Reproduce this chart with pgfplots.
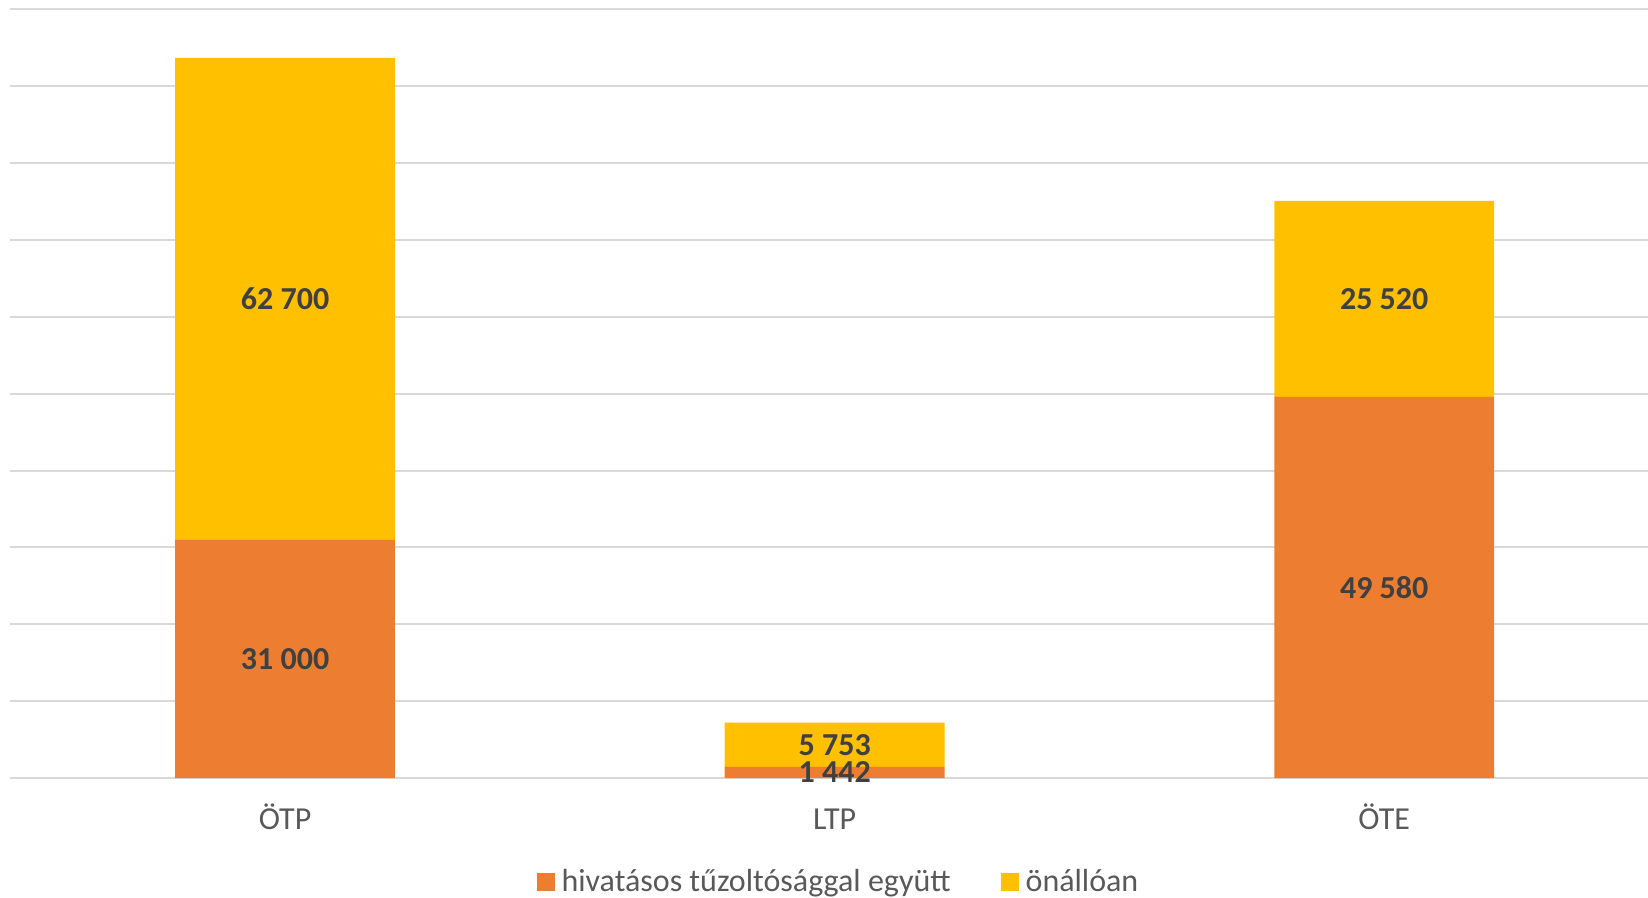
\documentclass[border=0pt]{standalone}
\usepackage{fontspec}
\setmainfont{Carlito}
\usepackage{pgfplots}
\pgfplotsset{compat=1.18}
\usepackage{pgfplotstable}

\definecolor{narancs}{HTML}{ED7D31}
\definecolor{sarga}{HTML}{FFC000}
\definecolor{racs}{HTML}{D9D9D9}
\definecolor{felirat}{HTML}{595959}
\definecolor{ertek}{HTML}{404040}

% segment values
\pgfplotstableread{
x  egyutt  onallo
0  31000   62700
1  1442    5753
2  49580   25520
}\adatok

% label positions (middle of each segment)
\pgfplotstableread{
x  y       v
0  15500   31000
0  62350   62700
1  721     1442
1  4318.5  5753
2  24790   49580
2  62340   25520
}\cimkek

\pgfplotsset{
  kozos/.style={
    scale only axis,
    width=818.85bp, height=384.25bp,
    at={(5.15bp,60bp)}, anchor=south west,
    xmin=-0.5, xmax=2.48,
    ymin=0, ymax=100000,
  },
}

\begin{document}
\begin{tikzpicture}
  \begin{axis}[
      kozos,
      ybar stacked,
      bar width=0.4,
      axis line style={draw=none},
      ytick={0,10000,...,100000},
      yticklabel=\empty,
      ymajorgrids,
      grid style={racs, line width=1bp},
      major tick length=0,
      xtick={0,1,2},
      xticklabels={ÖTP,LTP,ÖTE},
      xticklabel style={anchor=base, yshift=-25.8bp,
        font=\fontsize{16bp}{19bp}\selectfont, text=felirat},
      legend columns=2,
      legend cell align=left,
      legend style={draw=none, fill=none,
        at={(0.5063,-0.135)}, anchor=center,
        font=\fontsize{16bp}{19bp}\selectfont, text=felirat,
        /tikz/every even column/.append style={column sep=23bp}},
      legend image code/.code={
        \fill[#1] (0bp,-4.5bp) rectangle (9bp,4.5bp);
        \path (10.5bp,0bp);
      },
    ]
    \addplot[fill=narancs, draw=none] table[x=x, y=egyutt] {\adatok};
    \addlegendentry{hivatásos tűzoltósággal együtt}
    \addplot[fill=sarga, draw=none] table[x=x, y=onallo] {\adatok};
    \addlegendentry{önállóan}
  \end{axis}

  % data labels
  \begin{axis}[
      kozos,
      hide axis,
      clip=false,
    ]
    \addplot[draw=none, mark=none,
      nodes near coords={\pgfmathprintnumber[fixed, precision=0,
        1000 sep={\ }, assume math mode=true]{\pgfplotspointmeta}},
      every node near coord/.style={anchor=center, text=ertek,
        font=\bfseries\fontsize{16bp}{19bp}\selectfont},
      point meta=explicit]
      table[x=x, y=y, meta=v] {\cimkek};
  \end{axis}

  \pgfresetboundingbox
  \path[use as bounding box] (0,0) rectangle (824bp,449bp);
\end{tikzpicture}
\end{document}
